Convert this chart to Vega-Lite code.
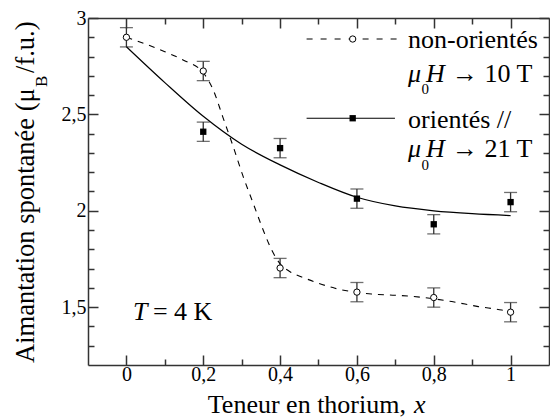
{
  "$schema": "https://vega.github.io/schema/vega-lite/v6.json",
  "width": 461,
  "height": 347,
  "autosize": {"type": "none"},
  "padding": {"left": 88, "top": 18, "right": 1, "bottom": 54},
  "background": "white",
  "config": {"view": {"stroke": null}, "font": "Liberation Serif, Times New Roman, serif"},
  "datasets": {
    "pts": [
      {"series": "non", "x": 0, "y": 2.90, "lo": 2.85, "hi": 2.95},
      {"series": "non", "x": 0.2, "y": 2.725, "lo": 2.675, "hi": 2.775},
      {"series": "non", "x": 0.4, "y": 1.703, "lo": 1.653, "hi": 1.753},
      {"series": "non", "x": 0.6, "y": 1.578, "lo": 1.528, "hi": 1.628},
      {"series": "non", "x": 0.8, "y": 1.55, "lo": 1.50, "hi": 1.60},
      {"series": "non", "x": 1.0, "y": 1.474, "lo": 1.424, "hi": 1.524},
      {"series": "ori", "x": 0.2, "y": 2.41, "lo": 2.36, "hi": 2.46},
      {"series": "ori", "x": 0.4, "y": 2.325, "lo": 2.275, "hi": 2.375},
      {"series": "ori", "x": 0.6, "y": 2.063, "lo": 2.013, "hi": 2.113},
      {"series": "ori", "x": 0.8, "y": 1.93, "lo": 1.88, "hi": 1.98},
      {"series": "ori", "x": 1.0, "y": 2.045, "lo": 1.995, "hi": 2.095}
    ],
    "fits": [
      {"series": "ori", "x": 0, "y": 2.851},
      {"series": "ori", "x": 0.1, "y": 2.665},
      {"series": "ori", "x": 0.2, "y": 2.49},
      {"series": "ori", "x": 0.3, "y": 2.345},
      {"series": "ori", "x": 0.4, "y": 2.238},
      {"series": "ori", "x": 0.5, "y": 2.147},
      {"series": "ori", "x": 0.6, "y": 2.07},
      {"series": "ori", "x": 0.7, "y": 2.025},
      {"series": "ori", "x": 0.8, "y": 2.0},
      {"series": "ori", "x": 0.9, "y": 1.985},
      {"series": "ori", "x": 1.0, "y": 1.975},
      {"series": "non", "x": 0, "y": 2.90},
      {"series": "non", "x": 0.05, "y": 2.865},
      {"series": "non", "x": 0.1, "y": 2.825},
      {"series": "non", "x": 0.15, "y": 2.78},
      {"series": "non", "x": 0.2, "y": 2.716},
      {"series": "non", "x": 0.226, "y": 2.627},
      {"series": "non", "x": 0.251, "y": 2.486},
      {"series": "non", "x": 0.278, "y": 2.333},
      {"series": "non", "x": 0.304, "y": 2.177},
      {"series": "non", "x": 0.33, "y": 2.039},
      {"series": "non", "x": 0.356, "y": 1.90},
      {"series": "non", "x": 0.378, "y": 1.797},
      {"series": "non", "x": 0.4, "y": 1.725},
      {"series": "non", "x": 0.426, "y": 1.684},
      {"series": "non", "x": 0.465, "y": 1.65},
      {"series": "non", "x": 0.543, "y": 1.598},
      {"series": "non", "x": 0.638, "y": 1.568},
      {"series": "non", "x": 0.7, "y": 1.562},
      {"series": "non", "x": 0.769, "y": 1.551},
      {"series": "non", "x": 0.847, "y": 1.529},
      {"series": "non", "x": 0.916, "y": 1.503},
      {"series": "non", "x": 0.977, "y": 1.485},
      {"series": "non", "x": 1.0, "y": 1.475}
    ],
    "legLines": [
      {"series": "non", "x": 0.469, "y": 2.891},
      {"series": "non", "x": 0.7035, "y": 2.891},
      {"series": "ori", "x": 0.469, "y": 2.48},
      {"series": "ori", "x": 0.699, "y": 2.48}
    ],
    "legPts": [
      {"series": "non", "x": 0.589, "y": 2.891},
      {"series": "ori", "x": 0.589, "y": 2.48}
    ],
    "roman": [
      {"t": "non-orientés", "x": 0.733, "y": 2.844},
      {"t": "→ 10 T", "x": 0.8475, "y": 2.67},
      {"t": "orientés //", "x": 0.733, "y": 2.428},
      {"t": "→ 21 T", "x": 0.8475, "y": 2.281},
      {"t": "= 4 K", "x": 0.069, "y": 1.434},
      {"t": "Teneur en thorium,", "x": 0.2118, "y": 0.951}
    ],
    "italic": [
      {"t": "μ", "x": 0.733, "y": 2.67},
      {"t": "H", "x": 0.780, "y": 2.67},
      {"t": "μ", "x": 0.733, "y": 2.281},
      {"t": "H", "x": 0.780, "y": 2.281},
      {"t": "T", "x": 0.0172, "y": 1.434},
      {"t": "x", "x": 0.7486, "y": 0.951}
    ],
    "sub": [
      {"t": "0", "x": 0.7683, "y": 2.604},
      {"t": "0", "x": 0.7683, "y": 2.21}
    ],
    "ytitle": [
      {"t": "Aimantation spontanée (μ", "x": -0.2405, "y": 1.2106},
      {"t": "/f.u.)", "x": -0.2405, "y": 2.715}
    ],
    "ysub": [
      {"t": "B", "x": -0.2067, "y": 2.642}
    ]
  },
  "resolve": {"axis": {"x": "independent", "y": "independent"}},
  "layer": [
    {
      "data": {"name": "pts"},
      "mark": {"type": "rule", "color": "#333", "strokeWidth": 1.3},
      "encoding": {
        "x": {"field": "x", "type": "quantitative", "scale": {"domain": [-0.1, 1.1], "nice": false, "zero": false}, "axis": null},
        "y": {"field": "lo", "type": "quantitative", "scale": {"domain": [1.2, 3], "nice": false, "zero": false}, "axis": null},
        "y2": {"field": "hi"}
      }
    },
    {
      "data": {"name": "pts"},
      "mark": {"type": "tick", "orient": "horizontal", "color": "#333", "size": 13, "thickness": 1.3},
      "encoding": {
        "x": {"field": "x", "type": "quantitative", "scale": {"domain": [-0.1, 1.1], "nice": false, "zero": false}, "axis": null},
        "y": {"field": "lo", "type": "quantitative", "scale": {"domain": [1.2, 3], "nice": false, "zero": false}, "axis": null}
      }
    },
    {
      "data": {"name": "pts"},
      "mark": {"type": "tick", "orient": "horizontal", "color": "#333", "size": 13, "thickness": 1.3},
      "encoding": {
        "x": {"field": "x", "type": "quantitative", "scale": {"domain": [-0.1, 1.1], "nice": false, "zero": false}, "axis": null},
        "y": {"field": "hi", "type": "quantitative", "scale": {"domain": [1.2, 3], "nice": false, "zero": false}, "axis": null}
      }
    },
    {
      "data": {"name": "fits"},
      "transform": [{"filter": "datum.series == 'ori'"}],
      "mark": {"type": "line", "color": "black", "strokeWidth": 1.2, "interpolate": "monotone"},
      "encoding": {
        "x": {"field": "x", "type": "quantitative", "scale": {"domain": [-0.1, 1.1], "nice": false, "zero": false}, "axis": null},
        "y": {"field": "y", "type": "quantitative", "scale": {"domain": [1.2, 3], "nice": false, "zero": false}, "axis": null}
      }
    },
    {
      "data": {"name": "fits"},
      "transform": [{"filter": "datum.series == 'non'"}],
      "mark": {"type": "line", "color": "black", "strokeWidth": 1.1, "strokeDash": [6, 6], "interpolate": "monotone"},
      "encoding": {
        "x": {"field": "x", "type": "quantitative", "scale": {"domain": [-0.1, 1.1], "nice": false, "zero": false}, "axis": null},
        "y": {"field": "y", "type": "quantitative", "scale": {"domain": [1.2, 3], "nice": false, "zero": false}, "axis": null}
      }
    },
    {
      "data": {"name": "legLines"},
      "transform": [{"filter": "datum.series == 'ori'"}],
      "mark": {"type": "line", "color": "black", "strokeWidth": 1.2},
      "encoding": {
        "x": {"field": "x", "type": "quantitative", "scale": {"domain": [-0.1, 1.1], "nice": false, "zero": false}, "axis": null},
        "y": {"field": "y", "type": "quantitative", "scale": {"domain": [1.2, 3], "nice": false, "zero": false}, "axis": null}
      }
    },
    {
      "data": {"name": "legLines"},
      "transform": [{"filter": "datum.series == 'non'"}],
      "mark": {"type": "line", "color": "black", "strokeWidth": 1.1, "strokeDash": [6, 8]},
      "encoding": {
        "x": {"field": "x", "type": "quantitative", "scale": {"domain": [-0.1, 1.1], "nice": false, "zero": false}, "axis": null},
        "y": {"field": "y", "type": "quantitative", "scale": {"domain": [1.2, 3], "nice": false, "zero": false}, "axis": null}
      }
    },
    {
      "data": {"name": "pts"},
      "transform": [{"filter": "datum.series == 'non'"}],
      "mark": {"type": "point", "shape": "circle", "filled": false, "fill": "white", "fillOpacity": 1, "stroke": "black", "strokeWidth": 1, "size": 40, "opacity": 1},
      "encoding": {
        "x": {"field": "x", "type": "quantitative", "scale": {"domain": [-0.1, 1.1], "nice": false, "zero": false},
          "axis": {
            "orient": "bottom",
            "values": [0, 0.1, 0.2, 0.3, 0.4, 0.5, 0.6, 0.7, 0.8, 0.9, 1.0],
            "title": null,
            "grid": false,
            "domainColor": "#333", "domainWidth": 1.5,
            "tickColor": "#333", "tickWidth": 1.5,
            "tickSize": {"condition": {"test": "abs(datum.value*5 - round(datum.value*5)) < 0.001", "value": -10}, "value": -6},
            "labelExpr": "abs(datum.value*5 - round(datum.value*5)) < 0.001 ? replace(format(datum.value, '~g'), '.', ',') : ''",
            "labelFont": "Liberation Serif, Times New Roman, serif", "labelFontSize": 20, "labelColor": "black",
            "labelPadding": 9, "labelFlush": false, "labelOverlap": false
          }
        },
        "y": {"field": "y", "type": "quantitative", "scale": {"domain": [1.2, 3], "nice": false, "zero": false},
          "axis": {
            "orient": "left",
            "values": [1.3, 1.4, 1.5, 1.6, 1.7, 1.8, 1.9, 2.0, 2.1, 2.2, 2.3, 2.4, 2.5, 2.6, 2.7, 2.8, 2.9, 3.0],
            "title": null,
            "grid": false,
            "domainColor": "#333", "domainWidth": 1.5,
            "tickColor": "#333", "tickWidth": 1.5,
            "tickSize": {"condition": {"test": "abs(datum.value*2 - round(datum.value*2)) < 0.001", "value": -10}, "value": -6},
            "labelExpr": "abs(datum.value*2 - round(datum.value*2)) < 0.001 ? replace(format(datum.value, '~g'), '.', ',') : ''",
            "labelFont": "Liberation Serif, Times New Roman, serif", "labelFontSize": 20, "labelColor": "black",
            "labelPadding": 12, "labelFlush": false, "labelOverlap": false
          }
        }
      }
    },
    {
      "data": {"name": "pts"},
      "transform": [{"filter": "datum.series == 'ori'"}],
      "mark": {"type": "point", "shape": "square", "filled": true, "color": "black", "size": 40, "opacity": 1},
      "encoding": {
        "x": {"field": "x", "type": "quantitative", "scale": {"domain": [-0.1, 1.1], "nice": false, "zero": false},
          "axis": {
            "orient": "top",
            "values": [0, 0.1, 0.2, 0.3, 0.4, 0.5, 0.6, 0.7, 0.8, 0.9, 1.0],
            "title": null, "labels": false, "grid": false,
            "domainColor": "#333", "domainWidth": 1.5,
            "tickColor": "#333", "tickWidth": 1.5,
            "tickSize": {"condition": {"test": "abs(datum.value*5 - round(datum.value*5)) < 0.001", "value": -10}, "value": -6}
          }
        },
        "y": {"field": "y", "type": "quantitative", "scale": {"domain": [1.2, 3], "nice": false, "zero": false},
          "axis": {
            "orient": "right",
            "values": [1.3, 1.4, 1.5, 1.6, 1.7, 1.8, 1.9, 2.0, 2.1, 2.2, 2.3, 2.4, 2.5, 2.6, 2.7, 2.8, 2.9, 3.0],
            "title": null, "labels": false, "grid": false,
            "domainColor": "#333", "domainWidth": 1.5,
            "tickColor": "#333", "tickWidth": 1.5,
            "tickSize": {"condition": {"test": "abs(datum.value*2 - round(datum.value*2)) < 0.001", "value": -10}, "value": -6}
          }
        }
      }
    },
    {
      "data": {"name": "legPts"},
      "transform": [{"filter": "datum.series == 'non'"}],
      "mark": {"type": "point", "shape": "circle", "filled": false, "fill": "white", "fillOpacity": 1, "stroke": "black", "strokeWidth": 1, "size": 40, "opacity": 1},
      "encoding": {
        "x": {"field": "x", "type": "quantitative", "scale": {"domain": [-0.1, 1.1], "nice": false, "zero": false}, "axis": null},
        "y": {"field": "y", "type": "quantitative", "scale": {"domain": [1.2, 3], "nice": false, "zero": false}, "axis": null}
      }
    },
    {
      "data": {"name": "legPts"},
      "transform": [{"filter": "datum.series == 'ori'"}],
      "mark": {"type": "point", "shape": "square", "filled": true, "color": "black", "size": 40, "opacity": 1},
      "encoding": {
        "x": {"field": "x", "type": "quantitative", "scale": {"domain": [-0.1, 1.1], "nice": false, "zero": false}, "axis": null},
        "y": {"field": "y", "type": "quantitative", "scale": {"domain": [1.2, 3], "nice": false, "zero": false}, "axis": null}
      }
    },
    {
      "data": {"name": "roman"},
      "mark": {"type": "text", "font": "Liberation Serif, Times New Roman, serif", "fontSize": 26, "align": "left", "baseline": "alphabetic", "color": "black"},
      "encoding": {
        "x": {"field": "x", "type": "quantitative", "scale": {"domain": [-0.1, 1.1], "nice": false, "zero": false}, "axis": null},
        "y": {"field": "y", "type": "quantitative", "scale": {"domain": [1.2, 3], "nice": false, "zero": false}, "axis": null},
        "text": {"field": "t"}
      }
    },
    {
      "data": {"name": "italic"},
      "mark": {"type": "text", "font": "Liberation Serif, Times New Roman, serif", "fontStyle": "italic", "fontSize": 26, "align": "left", "baseline": "alphabetic", "color": "black"},
      "encoding": {
        "x": {"field": "x", "type": "quantitative", "scale": {"domain": [-0.1, 1.1], "nice": false, "zero": false}, "axis": null},
        "y": {"field": "y", "type": "quantitative", "scale": {"domain": [1.2, 3], "nice": false, "zero": false}, "axis": null},
        "text": {"field": "t"}
      }
    },
    {
      "data": {"name": "sub"},
      "mark": {"type": "text", "font": "Liberation Serif, Times New Roman, serif", "fontSize": 15, "align": "left", "baseline": "alphabetic", "color": "black"},
      "encoding": {
        "x": {"field": "x", "type": "quantitative", "scale": {"domain": [-0.1, 1.1], "nice": false, "zero": false}, "axis": null},
        "y": {"field": "y", "type": "quantitative", "scale": {"domain": [1.2, 3], "nice": false, "zero": false}, "axis": null},
        "text": {"field": "t"}
      }
    },
    {
      "data": {"name": "ytitle"},
      "mark": {"type": "text", "font": "Liberation Serif, Times New Roman, serif", "fontSize": 26.5, "angle": 270, "align": "left", "baseline": "alphabetic", "color": "black"},
      "encoding": {
        "x": {"field": "x", "type": "quantitative", "scale": {"domain": [-0.1, 1.1], "nice": false, "zero": false}, "axis": null},
        "y": {"field": "y", "type": "quantitative", "scale": {"domain": [1.2, 3], "nice": false, "zero": false}, "axis": null},
        "text": {"field": "t"}
      }
    },
    {
      "data": {"name": "ysub"},
      "mark": {"type": "text", "font": "Liberation Serif, Times New Roman, serif", "fontSize": 17, "angle": 270, "align": "left", "baseline": "alphabetic", "color": "black"},
      "encoding": {
        "x": {"field": "x", "type": "quantitative", "scale": {"domain": [-0.1, 1.1], "nice": false, "zero": false}, "axis": null},
        "y": {"field": "y", "type": "quantitative", "scale": {"domain": [1.2, 3], "nice": false, "zero": false}, "axis": null},
        "text": {"field": "t"}
      }
    }
  ]
}
